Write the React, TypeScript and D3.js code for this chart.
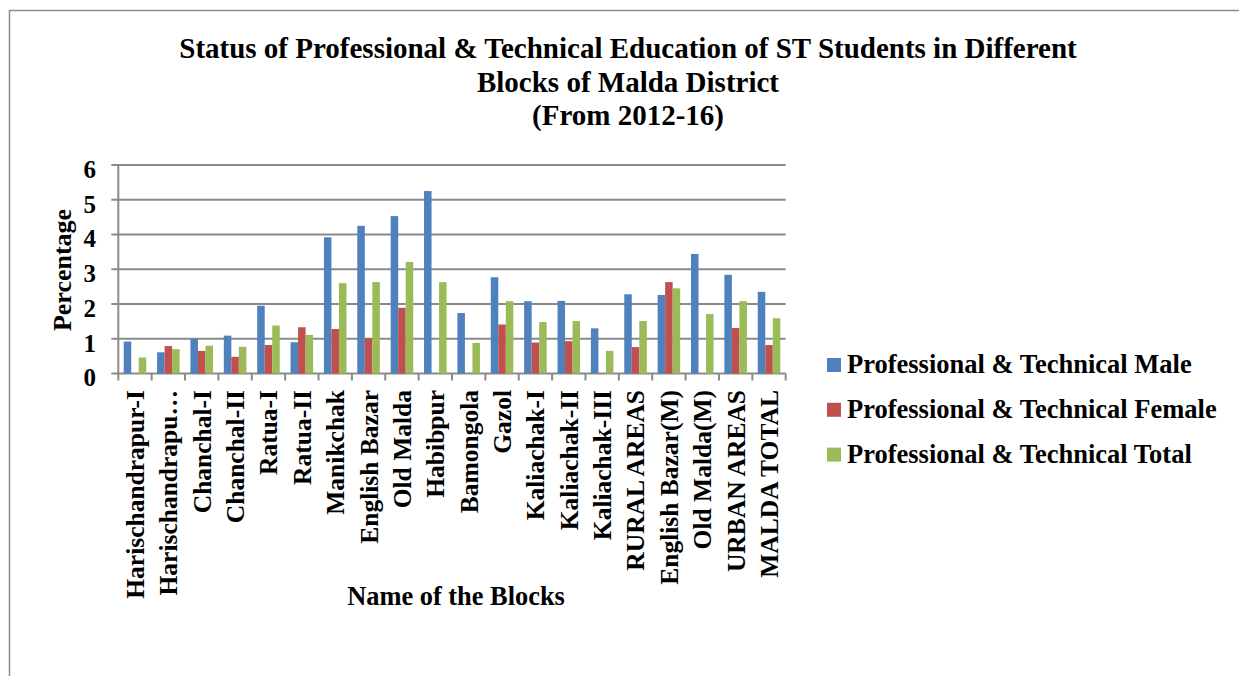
import * as d3 from "d3";

// Blocks of Malda district (x categories)
const categories = [
  "Harischandrapur-I",
  "Harischandrapu…",
  "Chanchal-I",
  "Chanchal-II",
  "Ratua-I",
  "Ratua-II",
  "Manikchak",
  "English Bazar",
  "Old Malda",
  "Habibpur",
  "Bamongola",
  "Gazol",
  "Kaliachak-I",
  "Kaliachak-II",
  "Kaliachak-III",
  "RURAL AREAS",
  "English Bazar(M)",
  "Old Malda(M)",
  "URBAN AREAS",
  "MALDA TOTAL",
];

const seriesNames = [
  "Professional & Technical Male",
  "Professional & Technical Female",
  "Professional & Technical Total",
];
const seriesColors = ["#4F81BD", "#C0504D", "#9BBB59"];

const maleValues = [0.92, 0.61, 0.99, 1.09, 1.95, 0.9, 3.92, 4.25, 4.53, 5.25, 1.74, 2.77, 2.08, 2.09, 1.3, 2.28, 2.26, 3.44, 2.84, 2.35];
const femaleValues = [0, 0.79, 0.65, 0.48, 0.82, 1.33, 1.28, 1.02, 1.89, 0, 0, 1.41, 0.89, 0.93, 0, 0.76, 2.63, 0, 1.31, 0.82];
const totalValues = [0.46, 0.7, 0.8, 0.77, 1.38, 1.11, 2.6, 2.63, 3.21, 2.63, 0.88, 2.08, 1.48, 1.51, 0.65, 1.51, 2.45, 1.71, 2.08, 1.59];

const yTicks = [0, 1, 2, 3, 4, 5, 6];

const titleLines = [
  "Status of Professional & Technical Education of ST Students in Different",
  "Blocks of Malda District",
  "(From 2012-16)",
];

const FONT = "'Liberation Serif', 'Times New Roman', serif";
const GRID = "#8a8a8a";

export default function App() {
  const width = 1239;
  const height = 676;

  // plot area
  const left = 118.3;
  const right = 785.7;
  const top = 165;
  const bottom = 373.5;

  const x0 = d3.scaleBand<string>().domain(categories).range([left, right]).padding(0);
  const x1 = d3
    .scaleBand<number>()
    .domain([0, 1, 2])
    .range([0, x0.bandwidth()])
    .paddingInner(0)
    .paddingOuter(0.72);
  const y = d3.scaleLinear().domain([0, 6]).range([bottom, top]);

  const series = [maleValues, femaleValues, totalValues];
  const boundaries = categories.map((c) => x0(c) as number).concat([right]);

  return (
    <svg
      width={width}
      height={height}
      style={{ position: "absolute", left: 0, top: 0, background: "#fff" }}
      fontFamily={FONT}
      fontWeight="bold"
    >
      {/* outer chart border (runs off the page on right/bottom) */}
      <rect x={9.5} y={10.5} width={1400} height={800} fill="#fff" stroke="#8c8c8c" strokeWidth={1.5} />

      {/* title */}
      {titleLines.map((t, i) => (
        <text key={t} x={628} y={58 + i * 33.5} textAnchor="middle" fontSize={29}>
          {t}
        </text>
      ))}

      {/* gridlines + y ticks */}
      {yTicks.map((t) => (
        <g key={t}>
          <line x1={left - 7} x2={right} y1={y(t)} y2={y(t)} stroke={GRID} strokeWidth={2} />
          <text x={96} y={y(t) + 4} dy="0.35em" textAnchor="end" fontSize={25}>
            {t}
          </text>
        </g>
      ))}

      {/* y axis line */}
      <line x1={left} x2={left} y1={top} y2={bottom + 1} stroke={GRID} strokeWidth={2} />

      {/* bars */}
      {series.map((vals, si) => (
        <g key={si} fill={seriesColors[si]}>
          {vals.map((v, ci) =>
            v > 0 ? (
              <rect
                key={ci}
                x={(x0(categories[ci]) as number) + (x1(si) as number)}
                y={y(v)}
                width={x1.bandwidth()}
                height={y(0) - y(v)}
              />
            ) : null
          )}
        </g>
      ))}

      {/* x axis ticks */}
      {boundaries.map((bx, i) => (
        <line key={i} x1={bx} x2={bx} y1={bottom} y2={bottom + 7} stroke={GRID} strokeWidth={2} />
      ))}

      {/* category labels */}
      {categories.map((c) => {
        const cx = (x0(c) as number) + x0.bandwidth() / 2;
        const ly = 390;
        return (
          <text
            key={c}
            transform={`translate(${cx},${ly}) rotate(-90)`}
            textAnchor="end"
            dy="0.35em"
            fontSize={25.5}
          >
            {c}
          </text>
        );
      })}

      {/* axis titles */}
      <text transform={`translate(61.7,270) rotate(-90)`} textAnchor="middle" dy="0.35em" fontSize={26}>
        Percentage
      </text>
      <text x={456} y={605} textAnchor="middle" fontSize={26.4}>
        Name of the Blocks
      </text>

      {/* legend */}
      {seriesNames.map((s, i) => {
        const by = 373 + i * 44.8;
        return (
          <g key={s}>
            <rect x={827} y={by - 15} width={14} height={14} fill={seriesColors[i]} />
            <text x={847} y={by} fontSize={26.5}>
              {s}
            </text>
          </g>
        );
      })}
    </svg>
  );
}
